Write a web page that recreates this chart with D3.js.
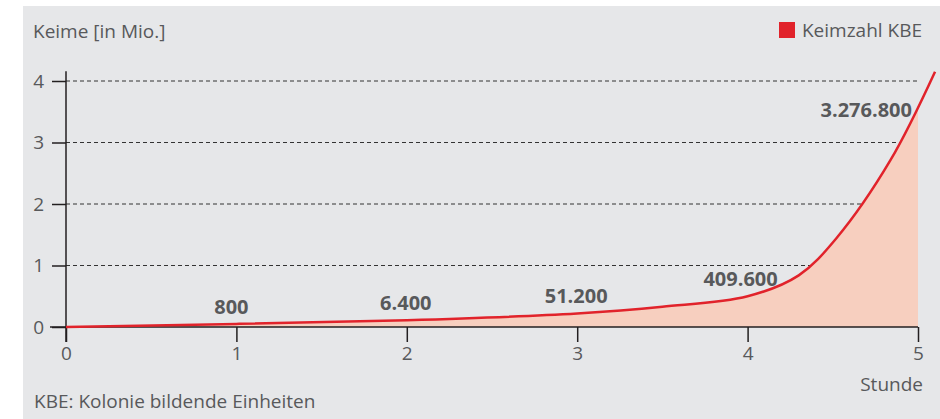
<!DOCTYPE html>
<html>
<head>
<meta charset="utf-8">
<script src="https://cdn.jsdelivr.net/npm/d3@7"></script>
<style>
  body { margin: 0; background: #fff; }
  svg text { font-family: "Open Sans", "Noto Sans", sans-serif; fill: #58595b; }
</style>
</head>
<body>
<div id="chart"></div>
<script>
// hours and germ count (millions)
var hours  = [0, 1, 2, 3, 3.5, 4, 4.3, 4.52, 4.84, 5.1];
var keime  = [0, 0.05, 0.11, 0.22, 0.33, 0.5, 0.84, 1.44, 2.72, 4.15];

var labelHours  = [1, 2, 3, 4, 5];
var labelValues = [0.05, 0.11, 0.22, 0.5, 3.42];
var labelTexts  = ["800", "6.400", "51.200", "409.600", "3.276.800"];

var xTicks = [0, 1, 2, 3, 4, 5];
var yTicks = [0, 1, 2, 3, 4];

var width = 940, height = 419;

var svg = d3.select("#chart").append("svg")
    .attr("width", width)
    .attr("height", height);

svg.append("rect")
    .attr("x", 23).attr("y", 6)
    .attr("width", width - 23).attr("height", height - 6)
    .style("fill", "#e6e7e9");

var x = d3.scaleLinear().domain([0, 5]).range([66, 918]);
var y = d3.scaleLinear().domain([0, 4]).range([327, 81]);

var points = hours.map(function(h, i) { return [h, keime[i]]; });

// gridlines
svg.selectAll("line.grid")
    .data(yTicks.filter(function(d) { return d > 0; }))
    .enter()
  .append("line")
    .attr("class", "grid")
    .attr("x1", x(0)).attr("x2", 917)
    .attr("y1", function(d) { return y(d); })
    .attr("y2", function(d) { return y(d); })
    .style("stroke", "#333")
    .style("stroke-width", 1)
    .style("stroke-dasharray", "4,3");

// area, clipped at hour 5
svg.append("clipPath")
    .attr("id", "clip5")
  .append("rect")
    .attr("x", x(0)).attr("y", 0)
    .attr("width", x(5) - x(0)).attr("height", y(0));

var curve = d3.curveCatmullRom.alpha(0.5);

var area = d3.area()
    .x(function(d) { return x(d[0]); })
    .y0(y(0))
    .y1(function(d) { return y(d[1]); })
    .curve(curve);

svg.append("path")
    .datum(points)
    .attr("d", area)
    .attr("clip-path", "url(#clip5)")
    .style("fill", "#f7cfbf");

// axes
var yAxis = svg.append("g")
    .attr("transform", "translate(" + x(0) + ",0)")
    .call(d3.axisLeft(y).tickValues(yTicks).tickSize(14).tickPadding(8).tickFormat(d3.format("d")));
yAxis.select(".domain").remove();

var xAxis = svg.append("g")
    .attr("transform", "translate(0," + y(0) + ")")
    .call(d3.axisBottom(x).tickValues(xTicks).tickSize(15).tickPadding(5).tickFormat(d3.format("d")));
xAxis.select(".domain").remove();

svg.selectAll(".tick line").style("stroke", "#231f20").style("stroke-width", 1.5);
svg.selectAll(".tick text").style("font-size", "19px").style("fill", "#58595b");

svg.append("line")
    .attr("x1", 50).attr("x2", x(5))
    .attr("y1", y(0)).attr("y2", y(0))
    .style("stroke", "#231f20").style("stroke-width", 1.5);

svg.append("line")
    .attr("x1", x(0)).attr("x2", x(0))
    .attr("y1", y(4.16)).attr("y2", y(0) + 15)
    .style("stroke", "#231f20").style("stroke-width", 1.5);

// curve
var line = d3.line()
    .x(function(d) { return x(d[0]); })
    .y(function(d) { return y(d[1]); })
    .curve(curve);

svg.append("path")
    .datum(points)
    .attr("d", line)
    .style("fill", "none")
    .style("stroke", "#e1232b")
    .style("stroke-width", 2.5);

// value labels
svg.selectAll("text.val")
    .data(labelTexts)
    .enter()
  .append("text")
    .attr("class", "val")
    .attr("x", function(d, i) { return i === 4 ? x(labelHours[i]) - 6 : x(labelHours[i]) - (i === 0 ? 5 : i === 3 ? 7 : 1); })
    .attr("y", function(d, i) { return i === 4 ? y(labelValues[i]) : y(labelValues[i]) - 10; })
    .attr("text-anchor", function(d, i) { return i === 4 ? "end" : "middle"; })
    .style("font-size", "20px")
    .style("font-weight", "bold")
    .text(function(d) { return d; });

// titles
svg.append("text")
    .attr("x", 33).attr("y", 38)
    .style("font-size", "19px")
    .text("Keime [in Mio.]");

svg.append("text")
    .attr("x", 923).attr("y", 391)
    .attr("text-anchor", "end")
    .style("font-size", "19px")
    .text("Stunde");

svg.append("text")
    .attr("x", 34).attr("y", 408)
    .style("font-size", "19px")
    .text("KBE: Kolonie bildende Einheiten");

// legend
svg.append("rect")
    .attr("x", 779).attr("y", 22)
    .attr("width", 16).attr("height", 16)
    .style("fill", "#e1232b");

svg.append("text")
    .attr("x", 922).attr("y", 37)
    .attr("text-anchor", "end")
    .style("font-size", "19px")
    .text("Keimzahl KBE");
</script>
</body>
</html>
